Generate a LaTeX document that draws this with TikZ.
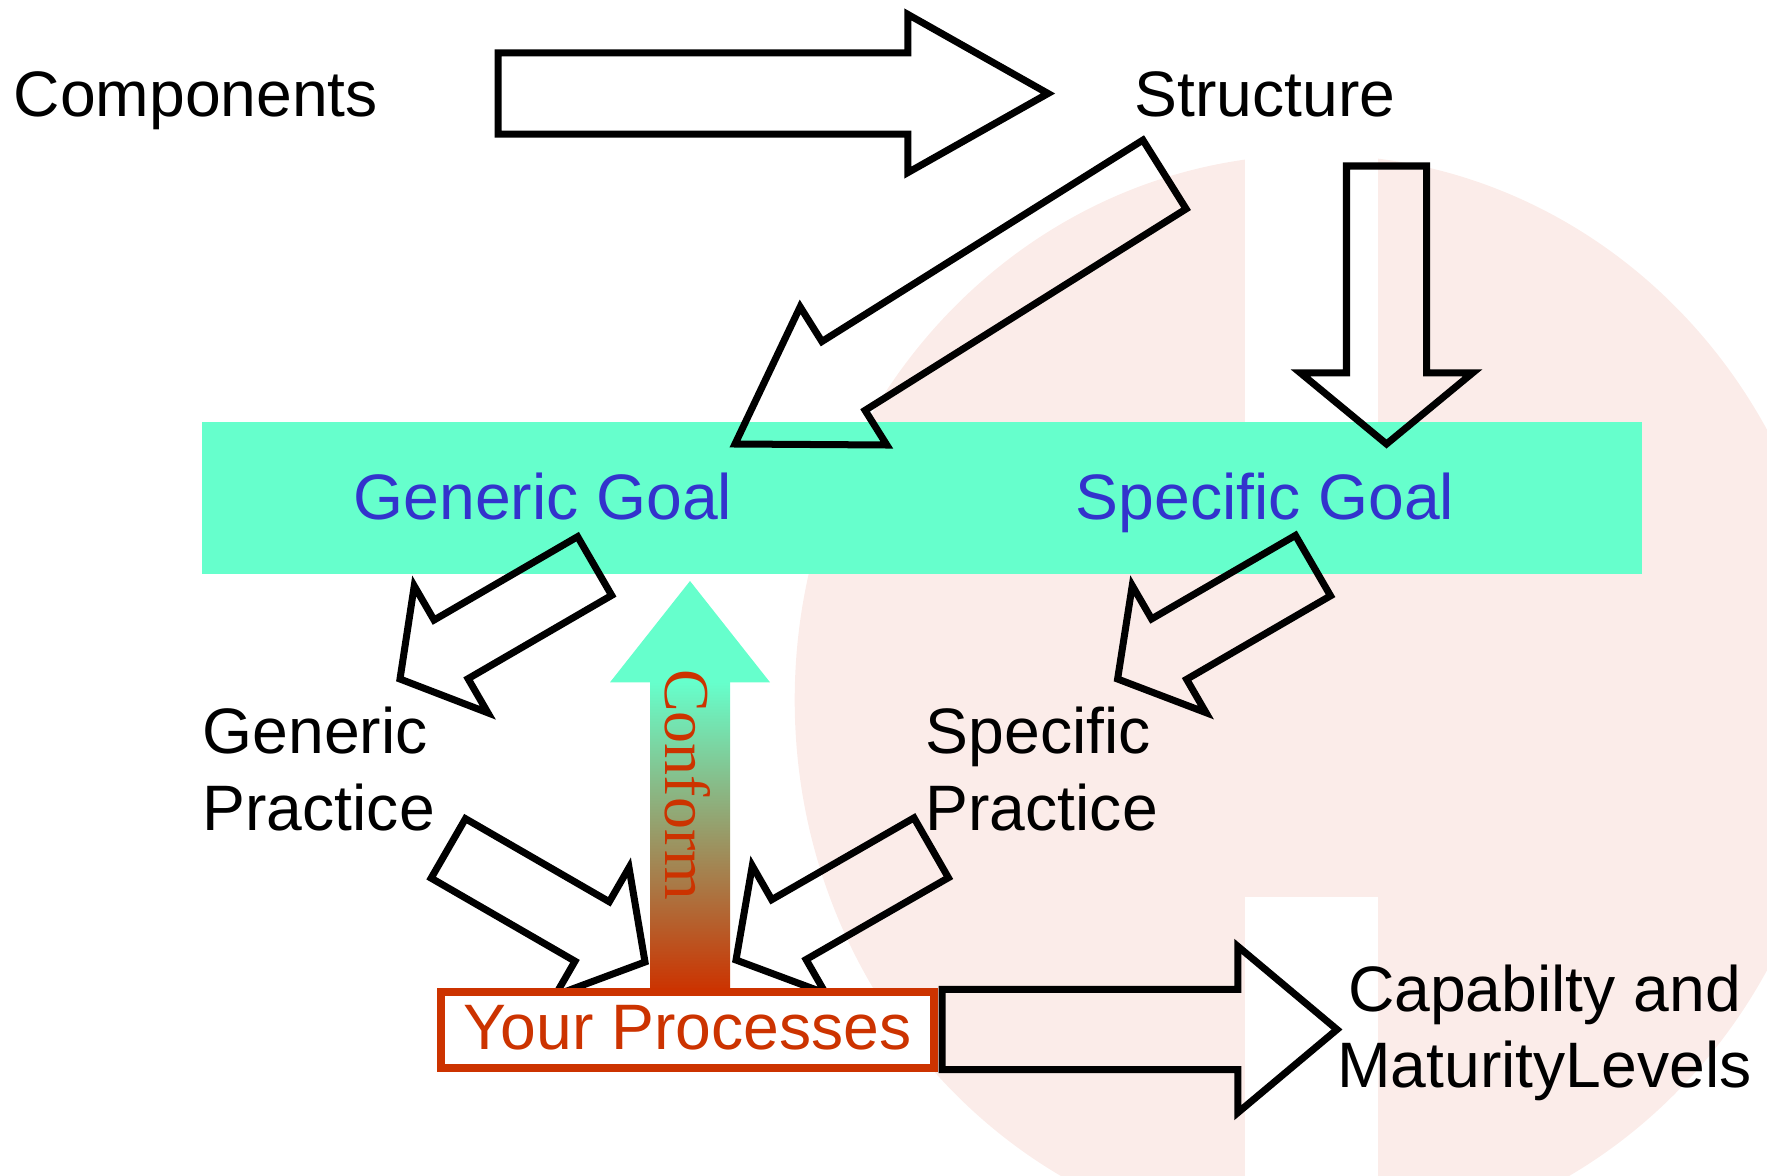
\documentclass[tikz,border=0pt]{standalone}
\usepackage{fontspec}
\setmainfont{Liberation Sans}
\newfontfamily\serifface{Liberation Serif}
\usetikzlibrary{calc}

\definecolor{goalgreen}{RGB}{102,255,204}
\definecolor{goalblue}{RGB}{51,51,204}
\definecolor{procred}{RGB}{204,51,0}
\definecolor{logopink}{RGB}{251,236,233}

\tikzset{
  outline arrow/.style={draw=black, line width=0.07cm},
  label text/.style={font=\fontsize{18.27}{21.7}\selectfont, inner sep=0pt, text=black},
  goal text/.style={label text, text=goalblue},
  conform text/.style={font=\serifface\fontsize{18.2}{21.7}\selectfont, inner sep=0pt, text=procred},
  process box/.style={draw=procred, line width=0.08cm, fill=white, inner sep=0pt,
    minimum width=4.93cm, text height=16.3pt, text depth=5.32pt, text=procred,
    font=\fontsize{18.27}{21.7}\selectfont},
  goal bar/.style={fill=goalgreen, inner sep=0pt},
}

% hollow block arrow: #1 name, #2 tail, #3 tip, #4 half shaft width,
% #5 half head width, #6 head length
\newcommand\blockarrow[6]{%
  \coordinate (#1-b) at ($(#3)!#6!(#2)$);
  \draw[outline arrow]
    ($(#2)!#4!90:(#3)$) -- ($(#1-b)!#4!90:(#3)$) -- ($(#1-b)!#5!90:(#3)$)
    -- (#3)
    -- ($(#1-b)!#5!-90:(#3)$) -- ($(#1-b)!#4!-90:(#3)$) -- ($(#2)!#4!-90:(#3)$)
    -- cycle;
}

\begin{document}
\begin{tikzpicture}[x=0.01cm, y=-0.01cm]
\useasboundingbox (0,0) rectangle (1767,1176);

% faint logo in the background
\begin{scope}
  \clip (0,0) rectangle (1767,1176);
  \fill[logopink] (1315,700) ellipse [x radius=5.2cm, y radius=5.45cm];
  \fill[white] (1245,0) rectangle (1378,422);
  \fill[white] (1245,897) rectangle (1378,1176);
\end{scope}

% goal band
\node[goal bar, minimum width=14.4cm, minimum height=1.52cm] (goals) at (922,498) {};

% gradient "conform" arrow
\coordinate (conf-tip) at (690,581);
\coordinate (conf-base) at (690,990);
\fill[goalgreen] (conf-tip) -- (770,682.3) -- (610,682.3) -- cycle;
\shade[top color=goalgreen, bottom color=procred] (650,682) rectangle (730,990);

% labels
\node[label text, anchor=base west] (comp) at (13,117) {Components};
\node[label text, anchor=base west] (struc) at (1134,117) {Structure};
\node[goal text, anchor=base west] (gg) at (353,519) {Generic Goal};
\node[goal text, anchor=base west] (sg) at (1075,519) {Specific Goal};
\node[label text, align=left, anchor=west] (gp) at (202,769) {Generic\\Practice};
\node[label text, align=left, anchor=west] (sp) at (925,769) {Specific\\Practice};
\node[label text, align=center] (cml) at (1544.5,1033) {Capabilty and\\MaturityLevels};
\node[conform text, rotate=-90] (conform) at (688,784.6) {Conform};

% block arrows
\coordinate (a1-t) at (498,93.5);    \coordinate (a1-p) at (1048,93.5);
\coordinate (a2-t) at (1164.5,174.5); \coordinate (a2-p) at (735,444);
\coordinate (a3-t) at (1386.5,166);  \coordinate (a3-p) at (1386.5,444);
\coordinate (a4-t) at (594.65,566);  \coordinate (a4-p) at (400,679);
\coordinate (a5-t) at (448.3,848.4); \coordinate (a5-p) at (645,962);
\coordinate (a6-t) at (1313,565.6);  \coordinate (a6-p) at (1117.6,679);
\coordinate (a7-t) at (931.2,847.8); \coordinate (a7-p) at (736,960);
\coordinate (a8-t) at (942,1029.5);  \coordinate (a8-p) at (1337,1029.5);

\blockarrow{a1}{a1-t}{a1-p}{0.405cm}{0.79cm}{1.40cm}
\blockarrow{a2}{a2-t}{a2-p}{0.406cm}{0.815cm}{1.28cm}
\blockarrow{a3}{a3-t}{a3-p}{0.40cm}{0.86cm}{0.71cm}
\blockarrow{a4}{a4-t}{a4-p}{0.339cm}{0.733cm}{0.59cm}
\blockarrow{a5}{a5-t}{a5-p}{0.343cm}{0.737cm}{0.61cm}
\blockarrow{a6}{a6-t}{a6-p}{0.349cm}{0.734cm}{0.595cm}
\blockarrow{a7}{a7-t}{a7-p}{0.345cm}{0.735cm}{0.61cm}
\blockarrow{a8}{a8-t}{a8-p}{0.40cm}{0.83cm}{0.99cm}

% process box
\node[process box, anchor=center] (yp) at (687.5,1030) {Your Processes};
\end{tikzpicture}
\end{document}
